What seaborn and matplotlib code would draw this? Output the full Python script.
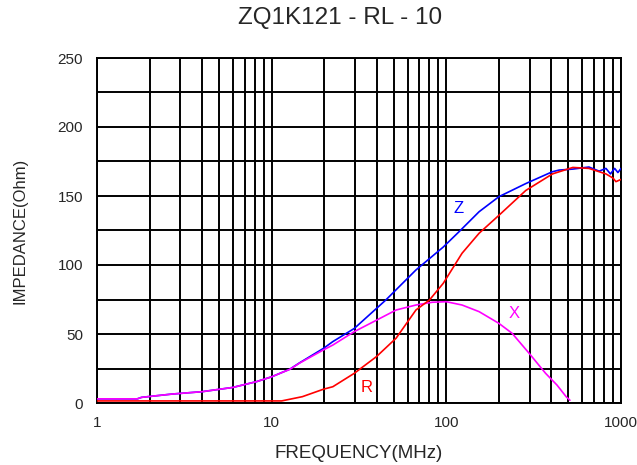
import pandas as pd
import seaborn as sns
import matplotlib.pyplot as plt
from matplotlib.ticker import FixedLocator, LogLocator, NullFormatter

# impedance curves (MHz, Ohm)
z_freq = [1, 1.7, 1.8, 2.7, 4, 6, 8.2, 10, 12.7, 14.4, 19.8, 22.4, 29.7, 45, 67,
          96, 118, 154, 200, 285, 405, 443, 530, 655, 750, 820, 870, 920, 960, 1000]
z_vals = [3, 3, 4.1, 6.5, 8.2, 11.3, 15.5, 19, 24.5, 29, 39.6, 44.5, 54, 74.6, 96.4,
          113, 124, 138.6, 149.5, 159, 167.6, 168.8, 169.5, 171, 168, 170, 166, 170, 167, 170]

x_freq = [1, 1.7, 1.8, 2.7, 4, 6, 8.2, 10, 12.7, 14.4, 19.8, 22.4, 29.7, 39.8, 51.6,
          67, 83, 100, 123, 154, 200, 238, 298, 370, 430, 485, 510]
x_vals = [3, 3, 4.1, 6.5, 8.2, 11.3, 15.5, 19, 24.4, 28.8, 38.5, 42, 51.7, 60, 67.4,
          71, 73, 73.4, 71, 66.2, 57.7, 50.5, 36, 21.5, 13, 4.6, 2]

r_freq = [1, 11.4, 15, 19.8, 22.4, 29.7, 39.8, 51.6, 67, 80, 96, 123, 154, 200,
          285, 405, 530, 655, 820, 900, 935, 1000]
r_vals = [1.5, 1.5, 4.6, 10, 11.8, 21.5, 33.6, 47, 67.4, 74.6, 86.7, 108.5, 123, 136,
          154, 166, 170.7, 170, 166, 163, 160.4, 162]

curve_names = ["Z", "X", "R"]
curve_colors = ["#0000ff", "#ff00ff", "#ff0000"]
label_pos = [(118, 141), (245, 65), (35, 11)]

df = pd.concat([
    pd.DataFrame({"freq": z_freq, "imp": z_vals, "curve": "Z"}),
    pd.DataFrame({"freq": x_freq, "imp": x_vals, "curve": "X"}),
    pd.DataFrame({"freq": r_freq, "imp": r_vals, "curve": "R"}),
])

sns.set_style("white")
plt.rcParams["font.family"] = ["Liberation Sans", "DejaVu Sans"]

fig, ax = plt.subplots(figsize=(6.37, 4.65), dpi=100)
fig.subplots_adjust(left=97 / 637, right=621 / 637, top=1 - 58 / 465, bottom=1 - 403 / 465)

sns.lineplot(data=df, x="freq", y="imp", hue="curve", hue_order=curve_names,
             palette=curve_colors, linewidth=1.2, legend=False, ax=ax, zorder=3)

ax.set_xscale("log")
ax.set_xlim(1, 1000)
ax.set_ylim(0, 250)
ax.set_xticks([1, 10, 100, 1000])
ax.set_xticklabels(["1", "10", "100", "1000"])
ax.xaxis.set_minor_locator(LogLocator(base=10, subs=range(2, 10)))
ax.xaxis.set_minor_formatter(NullFormatter())
ax.set_yticks(range(0, 251, 50))
ax.yaxis.set_minor_locator(FixedLocator(range(25, 250, 50)))

ax.grid(True, which="both", color="black", linewidth=1.4)
for s in ax.spines.values():
    s.set_color("black")
    s.set_linewidth(1.4)
ax.tick_params(which="both", length=0, labelsize=11)
ax.tick_params(axis="x", pad=9)
ax.tick_params(axis="y", pad=10)

for name, color, (fx, fy) in zip(curve_names, curve_colors, label_pos):
    ax.text(fx, fy, name, color=color, fontsize=12, ha="center", va="center")

ax.set_xlabel("FREQUENCY(MHz)", fontsize=13.5, labelpad=11)
ax.set_ylabel("IMPEDANCE(Ohm)", fontsize=12, labelpad=22)
fig.text(340 / 637, 1 - 18 / 465, "ZQ1K121 - RL - 10", fontsize=17.5,
         ha="center", va="center")

fig.savefig("out.png", dpi=100)
